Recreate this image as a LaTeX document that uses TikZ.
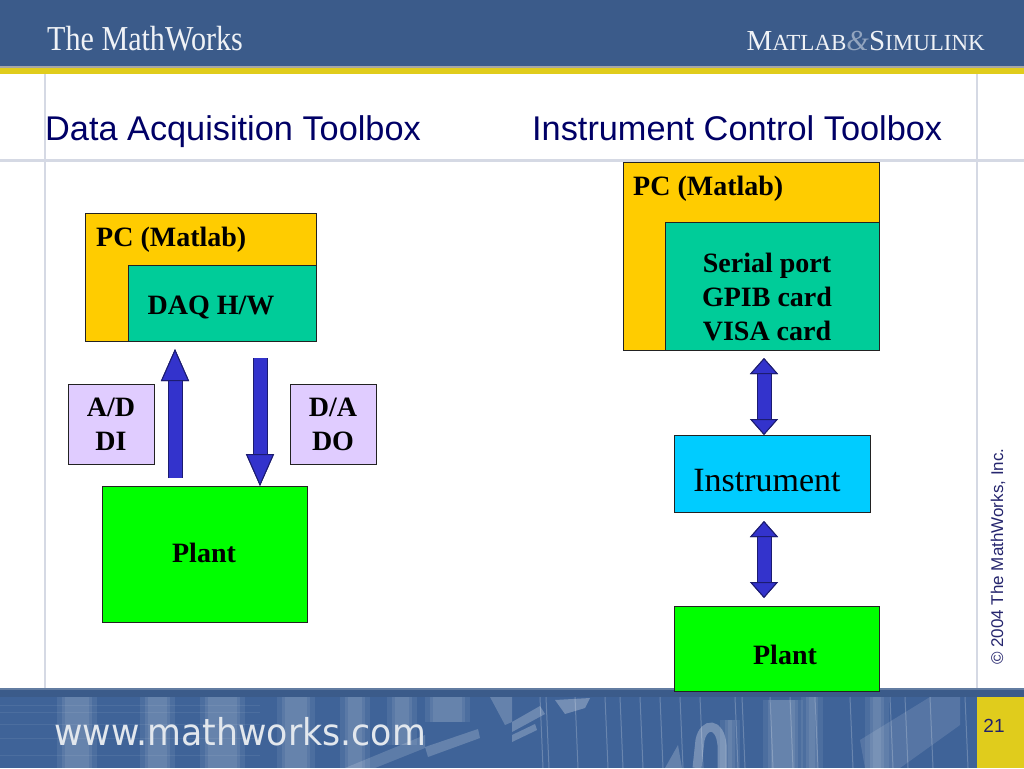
\documentclass[tikz,border=0pt]{standalone}
\usepackage{fontspec}
\setmainfont{Liberation Serif}
\setsansfont{Liberation Sans}
\newfontfamily\vfont{DejaVu Sans}
\usetikzlibrary{arrows.meta,calc}
\definecolor{hdr}{HTML}{3B5B8A}
\definecolor{ftr}{HTML}{3F6398}
\definecolor{gold}{HTML}{E0CC1C}
\definecolor{rule}{HTML}{D5D9E4}
\definecolor{ttl}{HTML}{000066}
\definecolor{pcy}{HTML}{FFCC00}
\definecolor{teal}{HTML}{00CC99}
\definecolor{lil}{HTML}{E0CCFF}
\definecolor{grn}{HTML}{00FF00}
\definecolor{cyn}{HTML}{00CCFF}
\definecolor{arr}{HTML}{3333CC}
\definecolor{arrd}{HTML}{1C1C70}
\definecolor{edge}{HTML}{222222}
\tikzset{
  x=1pt,y=-1pt,
  lbl/.style={font=\fontsize{28}{34}\selectfont\bfseries,align=center,text=black,inner sep=0pt},
  ttlf/.style={font=\fontsize{34.3}{38}\selectfont\sffamily,text=ttl,anchor=base west,inner sep=0pt},
  wbar/.style={line width=13pt,color=arr,preaction={draw=arrd,line width=15pt}},
  upa/.style={wbar,-{Triangle[length=32pt,width=28pt,line width=1pt,color=arrd,fill=arr]}},
  dbl/.style={wbar,{Triangle[length=16pt,width=28pt,line width=1pt,color=arrd,fill=arr]}-{Triangle[length=16pt,width=28pt,line width=1pt,color=arrd,fill=arr]}},
  soft/.style={fill=white,opacity=#1,draw=none},
  thin line/.style={draw=white,opacity=0.22,line width=1pt}
}
\newcommand{\bx}[6]{\node[draw=edge,line width=1pt,fill=#6,anchor=north west,minimum width=#4 pt,minimum height=#5 pt,inner sep=0pt,outer sep=0pt] (#1) at (#2,#3) {};}
% soft vertical band: x, width, top, bottom
\newcommand{\band}[4]{%
  \fill[soft=0.07] (#1-5,#3) rectangle (#1+#2+5,#4);
  \fill[soft=0.08] (#1,#3) rectangle (#1+#2,#4);
  \fill[soft=0.08] (#1+3,#3) rectangle (#1+#2-3,#4);}
\begin{document}
\begin{tikzpicture}
\useasboundingbox (0,0) rectangle (1024,768);
\fill[white] (0,0) rectangle (1024,768);
% frame lines
\fill[rule] (44,74) rectangle (46,688);
\fill[rule] (976,74) rectangle (978,688);
\fill[rule] (0,159) rectangle (1024,162);
% header
\fill[hdr] (0,0) rectangle (1024,66);
\fill[gray!70] (0,66) rectangle (1024,68);
\fill[gold] (0,68) rectangle (1024,74);
\node[anchor=base west,inner sep=0pt,text=white!92!hdr,font=\fontsize{35}{36}\selectfont,xscale=0.86] (logo) at (47,51) {The MathWorks};
\node[anchor=base east,inner sep=0pt,text=white!92!hdr,font=\fontsize{29}{30}\selectfont] (logob) at (985,51) {M\fontsize{23}{30}\selectfont ATLAB\textcolor{white!45!hdr}{\fontsize{29}{30}\selectfont\itshape\&}\fontsize{29}{30}\selectfont S\fontsize{23}{30}\selectfont IMULINK};
% footer
\fill[hdr] (0,688) rectangle (1024,768);
\fill[white!20!hdr] (0,688) rectangle (1024,690);
\fill[ftr] (0,697) rectangle (977,768);
\foreach \xa/\w/\ya/\yb in {62/30/697/768,145/25/697/768,205/35/697/768,282/28/697/768,345/20/697/768,392/20/697/745,430/35/697/722,725/10/720/768,768/30/700/768,806/12/697/768,870/14/697/768}{
  \band{\xa}{\w}{\ya}{\yb}
}
\foreach \xa in {540,546,575,605,620,640,660,680,700,735,742,770,790,815,850,890,905,930,965}{
  \draw[thin line] (\xa,697) -- (\xa+3,768);
}
\foreach \ya in {705,712,724,738,755}{
  \draw[draw=white,opacity=0.07,line width=1pt] (0,\ya) -- (260,\ya);
}
\fill[soft=0.24] (512,722) -- (540,706) -- (545,714) -- (512,732) -- cycle;
\fill[soft=0.24] (512,735) -- (535,724) -- (537,730) -- (512,742) -- cycle;
\fill[soft=0.28] (555,700) -- (590,698) -- (585,708) -- (565,714) -- cycle;
\fill[soft=0.2] (425,747) -- (478,729) -- (480,738) -- (428,757) -- cycle;
\fill[soft=0.16] (345,768) -- (425,735) -- (425,748) -- (375,768) -- cycle;
\fill[soft=0.2] (490,697) -- (512,697) -- (512,722) -- (505,725) -- cycle;
\fill[soft=0.2] (665,768) -- (678,745) -- (682,768) -- cycle;
\draw[draw=white,opacity=0.28,line width=9pt] (697,768) -- (700,740) .. controls (704,722) and (720,722) .. (722,745) -- (722,768);
\fill[soft=0.12] (860,740) -- (930,697) -- (960,697) -- (960,725) -- (900,768) -- (865,768) -- cycle;
\fill[gold] (977,697) rectangle (1024,768);
\node[anchor=base west,inner sep=0pt,text=white!85!hdr,font=\fontsize{37}{40}\selectfont\vfont,xscale=0.94] (url) at (54,745) {www.mathworks.com};
\node[anchor=base,inner sep=0pt,text=ttl!75!gray,font=\fontsize{19}{20}\selectfont\sffamily] (pg) at (994,732) {21};
\node[anchor=base west,rotate=90,inner sep=0pt,text=ttl!70!gray,font=\fontsize{17}{18}\selectfont\sffamily] (cp) at (1003,665) {© 2004 The MathWorks, Inc.};
% titles
\node[ttlf] (t1) at (45,140) {Data Acquisition Toolbox};
\node[ttlf] (t2) at (532,140) {Instrument Control Toolbox};
% left diagram
\bx{pcl}{85}{213}{231}{128}{pcy}
\bx{daq}{128}{265}{188}{76}{teal}
\bx{ad}{68}{384}{86}{80}{lil}
\bx{da}{290}{384}{86}{80}{lil}
\bx{pl}{102}{486}{205}{136}{grn}
\node[lbl,anchor=west] (pcla) at (96,240) {PC (Matlab)};
\node[lbl] (daqa) at (211,307) {DAQ H/W};
\node[lbl] (ada) at (111,424) {A/D\\DI};
\node[lbl] (daa) at (333,424) {D/A\\DO};
\node[lbl] (pla) at (204,553) {Plant};
\coordinate (u1) at (175,478);
\coordinate (u2) at (175,349);
\coordinate (d1) at (260,358);
\draw[upa] (u1) -- (u2);
\draw[upa] (d1) -- (d1 |- pl.north);
% right diagram
\bx{pcr}{623}{162}{256}{188}{pcy}
\bx{ser}{665}{222}{214}{128}{teal}
\bx{ins}{674}{435}{196}{77}{cyn}
\bx{pr}{674}{606}{205}{85}{grn}
\node[lbl,anchor=west] (pcra) at (633,189) {PC (Matlab)};
\node[lbl] (sera) at (767,297) {Serial port\\GPIB card\\VISA card};
\node[font=\fontsize{34}{36}\selectfont,inner sep=0pt,text=black] (insa) at (767,481) {Instrument};
\node[lbl] (pra) at (785,655) {Plant};
\coordinate (a1) at (764,358);
\coordinate (a2) at (764,521);
\coordinate (a3) at (764,598);
\draw[dbl] (a1) -- (a1 |- ins.north);
\draw[dbl] (a2) -- (a3);
\end{tikzpicture}
\end{document}
